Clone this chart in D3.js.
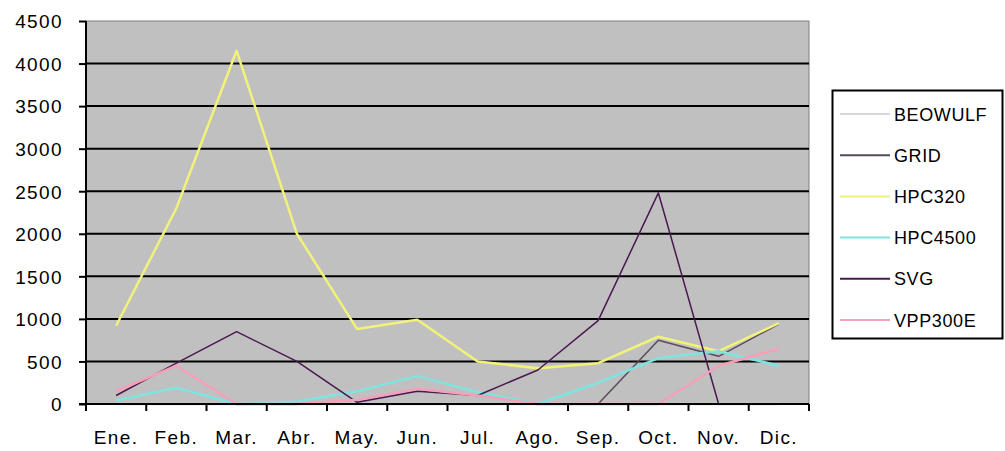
<!DOCTYPE html>
<html>
<head>
<meta charset="utf-8">
<script src="https://cdn.jsdelivr.net/npm/d3@7"></script>
<style>
  body { margin: 0; background: #fff; }
  text { font-family: Arial, "Liberation Sans", sans-serif; }
</style>
</head>
<body>
<script>
// months along the x axis
var months = ["Ene.", "Feb.", "Mar.", "Abr.", "May.", "Jun.", "Jul.", "Ago.", "Sep.", "Oct.", "Nov.", "Dic."];
var y_ticks = [0, 500, 1000, 1500, 2000, 2500, 3000, 3500, 4000, 4500];

// series, values
var series_names = ["BEOWULF", "GRID", "HPC320", "HPC4500", "SVG", "VPP300E"];
var beowulf = [0, 0, 0, 0, 0, 0, 0, 0, 0, 0, 0, 0];
var grid    = [0, 0, 0, 0, 0, 0, 0, 0, 0, 750, 560, 940];
var hpc320  = [920, 2300, 4150, 2000, 880, 990, 500, 420, 480, 790, 620, 950];
var hpc4500 = [40, 190, 0, 30, 150, 330, 140, 0, 250, 540, 620, 450];
var svg_s   = [100, 480, 850, 500, 20, 150, 100, 400, 980, 2480, 0, 0];
var vpp300e = [150, 450, 0, 0, 50, 180, 100, 0, 0, 0, 450, 650];
var colors  = ["#d8d8d8", "#5a4a5e", "#f2f27a", "#7fe3e0", "#4a1850", "#f4a0b8"];

var all_series = [beowulf, grid, hpc320, hpc4500, svg_s, vpp300e];

var W = 1005, H = 451;
var plot_left = 86, plot_right = 809, plot_top = 21, plot_bottom = 404;

var svg = d3.select("body").append("svg")
    .attr("width", W)
    .attr("height", H);

var x_scale = d3.scaleBand()
    .domain(months)
    .range([plot_left, plot_right]);

var y_scale = d3.scaleLinear()
    .domain([0, 4500])
    .range([plot_bottom, plot_top]);

// plot area
svg.append("rect")
    .attr("x", plot_left)
    .attr("y", plot_top)
    .attr("width", plot_right - plot_left)
    .attr("height", plot_bottom - plot_top)
    .attr("fill", "#c0c0c0")
    .attr("stroke", "#808080")
    .attr("stroke-width", 1);

// horizontal grid
svg.selectAll(".grid")
    .data(y_ticks.slice(1, -1))
    .enter()
    .append("line")
    .attr("x1", plot_left)
    .attr("x2", plot_right)
    .attr("y1", function(d) { return y_scale(d); })
    .attr("y2", function(d) { return y_scale(d); })
    .attr("stroke", "#000")
    .attr("stroke-width", 2);

// lines
var line = d3.line()
    .x(function(d, i) { return x_scale(months[i]) + x_scale.bandwidth() / 2; })
    .y(function(d) { return y_scale(d); });

all_series.forEach(function(vals, k) {
    svg.append("path")
        .attr("d", line(vals))
        .attr("fill", "none")
        .attr("stroke", colors[k])
        .attr("stroke-width", (k == 1 || k == 4) ? 1.5 : 2.5)
        .attr("stroke-linejoin", "round");
});

// y axis
var y_axis = d3.axisLeft(y_scale)
    .tickValues(y_ticks)
    .tickFormat(d3.format("d"))
    .tickSize(7)
    .tickPadding(16);

var gy = svg.append("g")
    .attr("transform", "translate(" + plot_left + ",0)")
    .call(y_axis);
gy.select(".domain").attr("stroke", "#000").attr("stroke-width", 2).attr("d", "M0," + plot_top + "V" + plot_bottom);
gy.selectAll(".tick line").attr("stroke", "#000").attr("stroke-width", 2);
gy.selectAll("text").attr("font-size", 19).attr("fill", "#000")
    .style("font-family", "Arial, 'Liberation Sans', sans-serif")
    .style("letter-spacing", "1.4px")
    .attr("dy", "0.36em");

// x axis
var gx = svg.append("g")
    .attr("transform", "translate(0," + plot_bottom + ")");
gx.append("line")
    .attr("x1", plot_left - 7).attr("x2", plot_right)
    .attr("y1", 0).attr("y2", 0)
    .attr("stroke", "#000").attr("stroke-width", 2);
gx.selectAll(".xt")
    .data(d3.range(months.length + 1))
    .enter()
    .append("line")
    .attr("x1", function(i) { return plot_left + i * x_scale.step(); })
    .attr("x2", function(i) { return plot_left + i * x_scale.step(); })
    .attr("y1", 0).attr("y2", 7)
    .attr("stroke", "#000").attr("stroke-width", 2);
gx.selectAll(".xl")
    .data(months)
    .enter()
    .append("text")
    .text(function(d) { return d; })
    .attr("x", function(d) { return x_scale(d) + x_scale.bandwidth() / 2; })
    .attr("y", 40)
    .attr("text-anchor", "middle")
    .attr("font-size", 19)
    .style("letter-spacing", "1.4px")
    .attr("fill", "#000");

// legend
var lg = svg.append("g");
lg.append("rect")
    .attr("x", 832.5).attr("y", 90.5)
    .attr("width", 170).attr("height", 248)
    .attr("fill", "#fff")
    .attr("stroke", "#000")
    .attr("stroke-width", 2);

var item = lg.selectAll(".item")
    .data(series_names)
    .enter()
    .append("g")
    .attr("transform", function(d, i) { return "translate(0," + (114 + i * 41.2) + ")"; });
item.append("line")
    .attr("x1", 840).attr("x2", 890)
    .attr("y1", 0).attr("y2", 0)
    .attr("stroke", function(d, i) { return colors[i]; })
    .attr("stroke-width", 2);
item.append("text")
    .text(function(d) { return d; })
    .attr("x", 894)
    .attr("y", 6.5)
    .attr("font-size", 18)
    .style("letter-spacing", "0.6px")
    .attr("fill", "#000");
</script>
</body>
</html>
